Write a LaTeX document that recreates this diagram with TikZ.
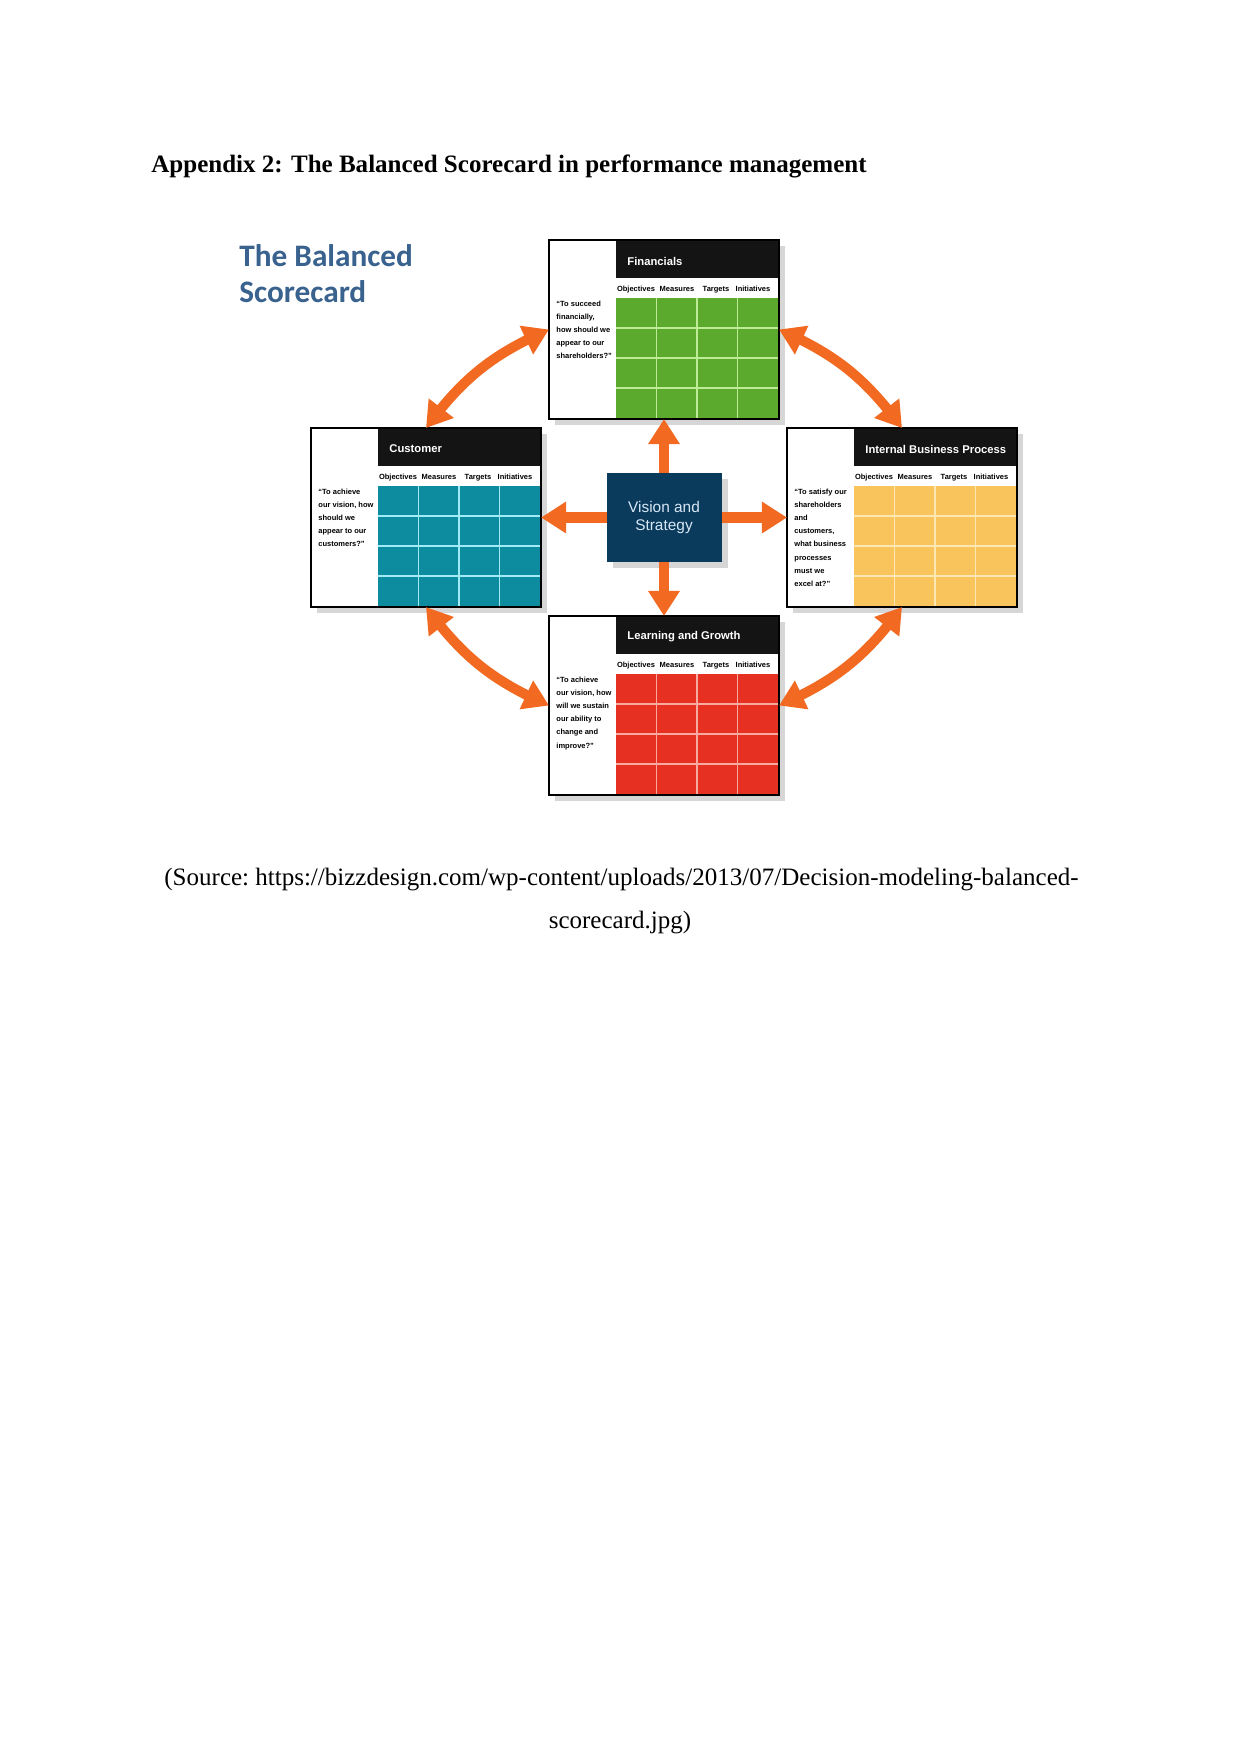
\documentclass[tikz,border=0pt]{standalone}
\usepackage{fontspec}
\setmainfont{Liberation Serif}
\newfontfamily\cardfont{Liberation Sans}
\newfontfamily\titlefont{Carlito}
\usetikzlibrary{arrows.meta,bending}

\definecolor{fgreen}{RGB}{91,170,46}
\definecolor{fgreenL}{RGB}{190,235,150}
\definecolor{cteal}{RGB}{12,140,158}
\definecolor{ctealL}{RGB}{160,235,245}
\definecolor{iyel}{RGB}{249,196,92}
\definecolor{iyelL}{RGB}{253,232,180}
\definecolor{lred}{RGB}{230,48,34}
\definecolor{lredL}{RGB}{248,170,160}
\definecolor{arroworange}{RGB}{242,106,34}
\definecolor{visnavy}{RGB}{10,58,92}
\definecolor{vistext}{RGB}{215,232,245}
\definecolor{titleblue}{RGB}{58,98,142}

\tikzset{
  cardframe/.style={draw=black, line width=1.2pt, inner sep=0pt, outer sep=0pt,
    minimum width={230*0.4797pt}, minimum height={179*0.4797pt}, anchor=north west},
  cardtitle/.style={text=white, font=\cardfont\bfseries\fontsize{5.4}{6}\selectfont, anchor=west, inner sep=0pt},
  colhead/.style={font=\cardfont\bfseries\fontsize{3.6}{4}\selectfont, inner sep=0pt, anchor=base},
  quotetext/.style={font=\cardfont\bfseries\fontsize{3.6}{6.25}\selectfont, align=left, anchor=north west, inner sep=0pt},
  shadowfill/.style={fill=black!16},
  visbox/.style={fill=visnavy, text=vistext, inner sep=0pt, outer sep=0pt,
    minimum width={115*0.4797pt}, minimum height={89*0.4797pt},
    font=\cardfont\fontsize{7.4}{9.1}\selectfont, align=center},
  bigarrow/.style={draw=arroworange, line width=5.2pt, -{Triangle[width=14.4pt,length=12pt]}},
  dblarrow/.style={draw=arroworange, line width=4.8pt,
    {Triangle[width=14.4pt,length=12pt]}-{Triangle[width=14.4pt,length=12pt]}},
  titletext/.style={text=titleblue, font=\titlefont\bfseries\fontsize{15}{18}\selectfont, anchor=base west, inner sep=0pt},
  pagetext/.style={font=\fontsize{12}{14}\selectfont, inner sep=0pt},
}

\newcommand\bsccard[7]{%
  \fill[shadowfill] (#2+6,#3+6) rectangle (#2+236,#3+185);
  \fill[white] (#2,#3) rectangle (#2+230,#3+179);
  \fill[black!92] (#2+67,#3) rectangle (#2+230,#3+38);
  \fill[#4] (#2+67,#3+58) rectangle (#2+230,#3+179);
  \foreach \kk in {1,2,3} {
    \draw[#5, line width=0.6pt] (#2+67+40.5*\kk,#3+58) -- (#2+67+40.5*\kk,#3+179);
    \draw[#5, line width=0.6pt] (#2+67,#3+58+30*\kk) -- (#2+230,#3+58+30*\kk);
  }
  \node[cardtitle] (#1-title) at (#2+78,#3+21) {#6};
  \node[colhead] (#1-obj) at (#2+87,#3+51) {Objectives};
  \node[colhead] (#1-mea) at (#2+128,#3+51) {Measures};
  \node[colhead] (#1-tar) at (#2+167,#3+51) {Targets};
  \node[colhead] (#1-ini) at (#2+204,#3+51) {Initiatives};
  \node[quotetext] (#1-quote) at (#2+7,#3+61) {#7};
  \node[cardframe] (#1) at (#2,#3) {};
}

\begin{document}
\begin{tikzpicture}[x=0.4797pt,y=-0.4797pt]
\useasboundingbox[fill=white] (0,0) rectangle (1241,1754);

% heading
\node[pagetext, font=\bfseries\fontsize{12}{14}\selectfont, anchor=base west] (head) at (151,173)
  {Appendix 2: The Balanced Scorecard in performance management};

% title
\node[titletext] (ttl1) at (239,266) {The Balanced};
\node[titletext] (ttl2) at (239,302) {Scorecard};

% cards
\bsccard{fin}{549}{240}{fgreen}{fgreenL}{Financials}
  {“To succeed\\financially,\\how should we\\appear to our\\shareholders?”}
\bsccard{cus}{311}{428}{cteal}{ctealL}{Customer}
  {“To achieve\\our vision, how\\should we\\appear to our\\customers?”}
\bsccard{ibp}{787}{428}{iyel}{iyelL}{Internal Business Process}
  {“To satisfy our\\shareholders\\and\\customers,\\what business\\processes\\must we\\excel at?”}
\bsccard{lg}{549}{616}{lred}{lredL}{Learning and Growth}
  {“To achieve\\our vision, how\\will we sustain\\our ability to\\change and\\improve?”}

% vision
\fill[shadowfill] (613,479) rectangle (728,568);
\node[visbox] (vis) at (664,517.5) {Vision and\\Strategy};

% straight arrows
\draw[bigarrow] (vis) -- (fin);
\draw[bigarrow] (vis) -- (cus);
\draw[bigarrow] (vis) -- (ibp);
\draw[bigarrow] (vis) -- (lg);

% curved double arrows
\draw[dblarrow] (cus.north) to[bend left=15] (fin.west);
\draw[dblarrow] (fin.east) to[bend left=15] (ibp.north);
\draw[dblarrow] (ibp.south) to[bend left=15] (lg.east);
\draw[dblarrow] (lg.west) to[bend left=15] (cus.south);

% source
\node[pagetext, anchor=base west] (src1) at (164,885) {(Source:};
\node[pagetext, anchor=base east] (src2) at (1079,885)
  {https://bizzdesign.com/wp-content/uploads/2013/07/Decision-modeling-balanced-};
\node[pagetext, anchor=base] (src3) at (620,928) {scorecard.jpg)};
\end{tikzpicture}
\end{document}
